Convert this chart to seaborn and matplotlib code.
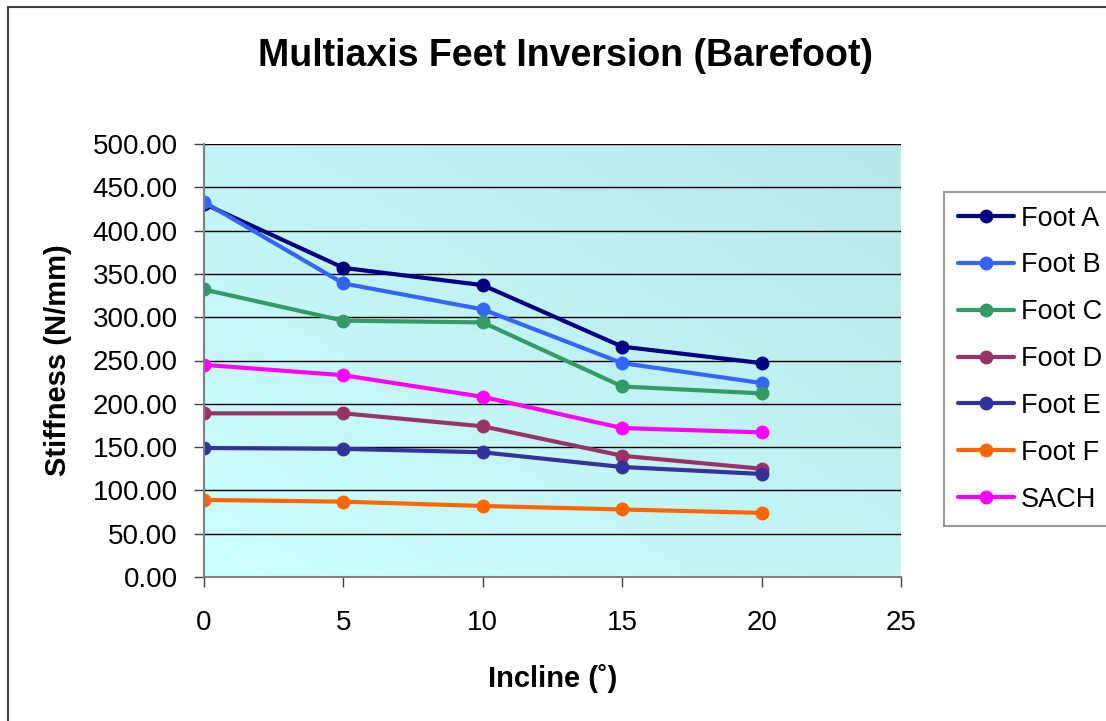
import numpy as np
import pandas as pd
import matplotlib
matplotlib.use("Agg")
import matplotlib.pyplot as plt
from matplotlib.patches import Rectangle
import seaborn as sns

# ---- data ----
incline = [0, 5, 10, 15, 20]
foot_a = [431, 357, 337, 266, 247]
foot_b = [433, 339, 309, 247, 224]
foot_c = [332, 296, 294, 220, 212]
foot_d = [189, 189, 174, 140, 125]
foot_e = [149, 148, 144, 127, 119]
foot_f = [89, 87, 82, 78, 74]
sach = [245, 233, 208, 172, 167]
series_names = ["Foot A", "Foot B", "Foot C", "Foot D", "Foot E", "Foot F", "SACH"]
series_values = [foot_a, foot_b, foot_c, foot_d, foot_e, foot_f, sach]
colors = ["#000080", "#3366FF", "#339966", "#993366", "#333399", "#FF6600", "#FF00FF"]
y_ticks = [0, 50, 100, 150, 200, 250, 300, 350, 400, 450, 500]
x_ticks = [0, 5, 10, 15, 20, 25]
title = "Multiaxis Feet Inversion (Barefoot)"
x_label = "Incline (˚)"
y_label = "Stiffness (N/mm)"

rows = []
for name, vals in zip(series_names, series_values):
    for x, v in zip(incline, vals):
        rows.append({"Incline": x, "Stiffness": v, "Series": name})
df = pd.DataFrame(rows)

sns.set_theme(style="white")
plt.rcParams["font.family"] = ["Liberation Sans", "DejaVu Sans"]
plt.rcParams["text.color"] = "black"
plt.rcParams["axes.labelcolor"] = "black"
plt.rcParams["xtick.color"] = "black"
plt.rcParams["ytick.color"] = "black"

W, H = 1106, 721
fig = plt.figure(figsize=(W / 100, H / 100), dpi=100)
ax = fig.add_axes([204 / W, 1 - 577 / H, (901 - 204) / W, (577 - 144) / H])

# gradient background
nx, ny = 200, 200
gx, gy = np.meshgrid(np.linspace(0, 1, nx), np.linspace(0, 1, ny))
t = (gx + gy) / 2.0
c0 = np.array([204, 255, 255]) / 255.0
c1 = np.array([184, 232, 232]) / 255.0
img = c0[None, None, :] * (1 - t[..., None]) + c1[None, None, :] * t[..., None]
ax.imshow(img, extent=[0, 25, 0, 500], origin="lower", aspect="auto", zorder=0)

palette = dict(zip(series_names, colors))
sns.lineplot(data=df, x="Incline", y="Stiffness", hue="Series", hue_order=series_names,
             palette=palette, marker="o", markersize=10, markeredgewidth=0,
             linewidth=3.0, ax=ax, legend=True, zorder=3)

ax.set_xlim(0, 25)
ax.set_ylim(0, 500)
ax.set_xticks(x_ticks)
ax.set_yticks(y_ticks)
ax.set_yticklabels([f"{v:.2f}" for v in y_ticks])
ax.yaxis.grid(True, color="black", linewidth=1.0, zorder=1)
ax.set_axisbelow(False)
for ln in ax.get_ygridlines():
    ln.set_zorder(1)
ax.xaxis.grid(False)

for s in ["top", "right"]:
    ax.spines[s].set_visible(False)
for s in ["left", "bottom"]:
    ax.spines[s].set_color("#808080")
    ax.spines[s].set_linewidth(1.5)
    ax.spines[s].set_zorder(4)

ax.tick_params(axis="both", which="major", direction="out", length=7, width=1,
               color="#404040", labelsize=20, labelcolor="black")
ax.tick_params(axis="y", pad=12, left=True)
ax.tick_params(axis="x", pad=17, bottom=True)

ax.set_xlabel(x_label, fontsize=21, fontweight="bold", labelpad=20, color="black")
ax.set_ylabel(y_label, fontsize=21, fontweight="bold", labelpad=15, color="black")

fig.text(566 / W, 1 - 56 / H, title, fontsize=27, fontweight="bold",
         ha="center", va="center", color="black")

handles, labels = ax.get_legend_handles_labels()
leg = fig.legend(handles, labels, loc="upper left",
                 bbox_to_anchor=(944 / W, 1 - 192 / H), fontsize=19.5,
                 frameon=True, fancybox=False, edgecolor="#808080",
                 labelspacing=0.77, handlelength=2.1, handletextpad=0.25,
                 borderpad=0.5, borderaxespad=0)
leg.get_frame().set_linewidth(1.5)
for txt in leg.get_texts():
    txt.set_color("black")
if ax.get_legend():
    ax.get_legend().remove()

# figure border
fig.patches.append(Rectangle((8 / W, -0.05), 1.2, 1 - 7 / H + 0.05,
                             transform=fig.transFigure, fill=False,
                             edgecolor="#404040", linewidth=1.5, zorder=0))

fig.savefig("out.png", dpi=100)
